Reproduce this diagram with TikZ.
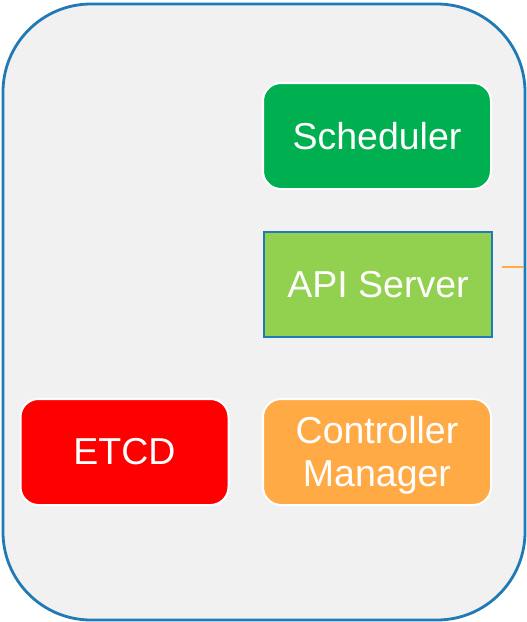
\documentclass[tikz,border=0pt]{standalone}
\usepackage{fontspec}
\setmainfont{Liberation Sans}
\definecolor{frameblue}{HTML}{1F7AB5}
\definecolor{panelgray}{HTML}{F1F1F1}
\definecolor{schedgreen}{HTML}{00B050}
\definecolor{apigreen}{HTML}{92D050}
\definecolor{etcdred}{HTML}{FF0000}
\definecolor{ctrlorange}{HTML}{FFAA44}
\definecolor{linkorange}{HTML}{FFAA44}
\begin{document}
\begin{tikzpicture}[x=1pt,y=-1pt,
  component/.style={text=white, font=\fontsize{37.5}{43}\selectfont, align=center,
    inner sep=0pt, minimum width=228pt, minimum height=106pt, line width=2pt},
  roundcomp/.style={component, draw=white, rounded corners=18pt},
  link/.style={draw=linkorange, line width=1.5pt}]
  \useasboundingbox (0,0) rectangle (527,622);
  % control-plane panel
  \draw[draw=frameblue, fill=panelgray, line width=2.8pt, rounded corners=88pt]
    (3,4) rectangle (525,620);
  % components
  \node[roundcomp, fill=schedgreen] (sched) at (377,136) {Scheduler};
  \node[component, draw=frameblue, fill=apigreen, minimum width=228pt, minimum height=105pt]
    (api) at (378,284.5) {API Server};
  \node[roundcomp, fill=etcdred, minimum width=208pt] (etcd) at (124.5,452) {ETCD};
  \node[roundcomp, fill=ctrlorange] (ctrl) at (377,452) {};
  \node[text=white, font=\fontsize{37.5}{43}\selectfont, align=center, inner sep=0pt]
    (ctrltext) at ([yshift=-3pt]ctrl.center) {Controller\\Manager};
  % outgoing link from the API server
  \coordinate (linkstart) at (502,267);
  \coordinate (linkend) at (524,267);
  \draw[link] (linkstart) -- (linkend);
\end{tikzpicture}
\end{document}
